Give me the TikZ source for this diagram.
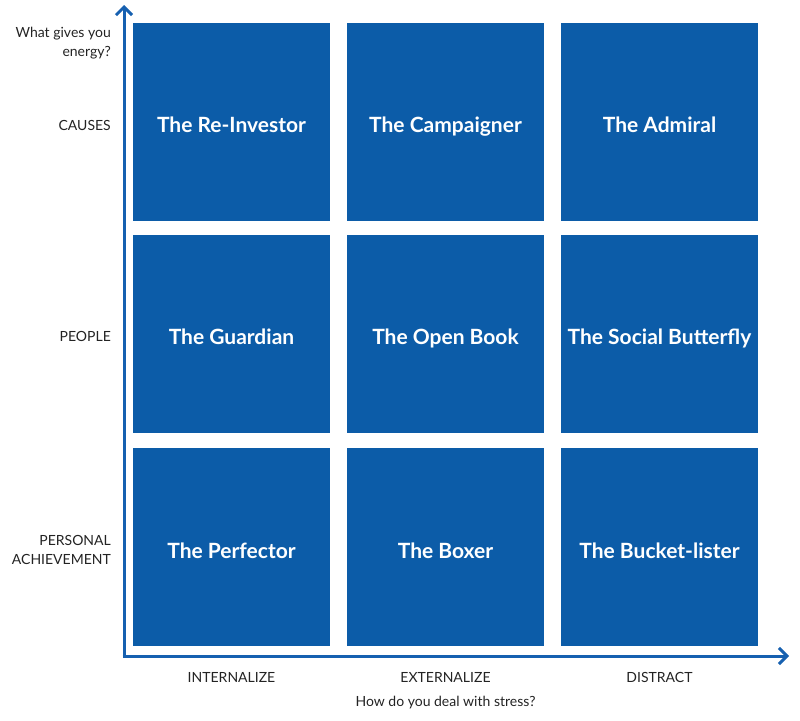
\documentclass[tikz,border=0pt]{standalone}
\usepackage{fontspec}
\setmainfont{Lato}
\usetikzlibrary{arrows.meta}
\definecolor{boxblue}{RGB}{12,92,168}
\definecolor{axisblue}{RGB}{22,96,176}
\definecolor{labelgray}{RGB}{35,35,35}
\begin{document}
\begin{tikzpicture}[x=1pt,y=-1pt,
  cell/.style={fill=boxblue, draw=none, minimum width=197pt, minimum height=198pt, inner sep=0pt},
  celltext/.style={text=white, inner sep=0pt, anchor=base, font=\fontsize{21}{24}\selectfont\bfseries},
  lab/.style={text=labelgray, font=\fontsize{14}{18.5}\selectfont, inner sep=0pt},
  axis/.style={draw=axisblue, line width=3pt, -{Straight Barb[length=8pt,width=16pt,line width=3pt]}}
]
\useasboundingbox (0,0) rectangle (800,720);
% cells
\node[cell] (c11) at (231.5,121.5) {};
\node[cell] (c12) at (445.5,121.5) {};
\node[cell] (c13) at (659.5,121.5) {};
\node[cell] (c21) at (231.5,334) {};
\node[cell] (c22) at (445.5,334) {};
\node[cell] (c23) at (659.5,334) {};
\node[cell] (c31) at (231.5,547) {};
\node[cell] (c32) at (445.5,547) {};
\node[cell] (c33) at (659.5,547) {};
\node[celltext] (t11) at (231.5,132) {The Re-Investor};
\node[celltext] (t12) at (445.5,132) {The Campaigner};
\node[celltext] (t13) at (659.5,132) {The Admiral};
\node[celltext] (t21) at (231.5,344.5) {The Guardian};
\node[celltext] (t22) at (445.5,344.5) {The Open Book};
\node[celltext] (t23) at (659.5,344.5) {The Social Butterfly};
\node[celltext] (t31) at (231.5,558.5) {The Perfector};
\node[celltext] (t32) at (445.5,558.5) {The Boxer};
\node[celltext] (t33) at (659.5,558.5) {The Bucket-lister};
% axes
\coordinate (ytip) at (124,5);
\coordinate (xtip) at (789,656);
\coordinate (ystart) at (124,657.5);
\coordinate (xstart) at (122.5,656);
\draw[axis] (ystart) -- (ytip);
\draw[axis] (xstart) -- (xtip);
% row labels
\node[lab, anchor=east, align=right] (qy) at (111,43) {What gives you\\energy?};
\node[lab, anchor=east] (r1) at (111,125) {CAUSES};
\node[lab, anchor=east] (r2) at (111,336) {PEOPLE};
\node[lab, anchor=east, align=right] (r3) at (111,550) {PERSONAL\\ACHIEVEMENT};
% column labels
\node[lab] (k1) at (231.5,677) {INTERNALIZE};
\node[lab] (k2) at (445.5,677) {EXTERNALIZE};
\node[lab] (k3) at (659.5,677) {DISTRACT};
\node[lab] (qx) at (445.5,702.5) {How do you deal with stress?};
\end{tikzpicture}
\end{document}
